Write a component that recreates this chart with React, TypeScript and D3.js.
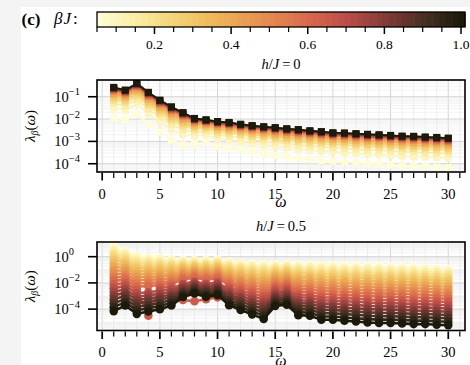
import React from "react";
import * as d3 from "d3";

const W = 470;
const H = 365;
const FONT = '"Liberation Serif", "DejaVu Serif", serif';

// ---------------- data ----------------
const omega = [1, 2, 3, 4, 5, 6, 7, 8, 9, 10, 11, 12, 13, 14, 15, 16, 17, 18, 19, 20, 21, 22, 23, 24, 25, 26, 27, 28, 29, 30];
const xMajorTicks = [0, 5, 10, 15, 20, 25, 30];
const colorbarMajorTicks = [0.2, 0.4, 0.6, 0.8, 1.0];
const colorbarTickLabels = ["0.2", "0.4", "0.6", "0.8", "1.0"];
const topYTickExponents = [-1, -2, -3, -4];
const bottomYTickExponents = [0, -2, -4];
const panelFieldValues = ["0", "0.5"];

// top panel (h/J = 0): log10 lambda, one row per beta J
const topBetas = [0.05, 0.1, 0.15, 0.2, 0.25, 0.3, 0.35, 0.4, 0.5, 0.6, 0.7, 0.8, 0.9, 1.0];
const topLog10Lambda = [
  [-1.94, -2.02, -1.76, -2.21, -2.58, -2.93, -3.15, -3.12, -3.03, -3.25, -3.30, -3.35, -3.47, -3.55, -3.62, -3.70, -3.77, -3.82, -3.85, -3.88, -3.91, -3.95, -4.00, -4.03, -4.05, -4.08, -4.11, -4.12, -4.15, -4.18],
  [-1.50, -1.60, -1.32, -1.76, -2.12, -2.46, -2.69, -2.75, -2.71, -2.89, -2.93, -2.99, -3.09, -3.16, -3.22, -3.29, -3.35, -3.40, -3.44, -3.47, -3.50, -3.53, -3.58, -3.60, -3.63, -3.66, -3.68, -3.70, -3.72, -3.75],
  [-1.30, -1.40, -1.12, -1.55, -1.91, -2.23, -2.47, -2.58, -2.56, -2.71, -2.76, -2.82, -2.92, -2.98, -3.04, -3.10, -3.16, -3.21, -3.24, -3.28, -3.30, -3.34, -3.38, -3.40, -3.43, -3.46, -3.48, -3.50, -3.52, -3.55],
  [-1.15, -1.25, -0.97, -1.39, -1.75, -2.07, -2.31, -2.45, -2.45, -2.59, -2.63, -2.70, -2.79, -2.85, -2.90, -2.96, -3.02, -3.07, -3.10, -3.14, -3.16, -3.20, -3.23, -3.26, -3.28, -3.31, -3.33, -3.35, -3.38, -3.41],
  [-1.06, -1.16, -0.88, -1.29, -1.65, -1.97, -2.21, -2.37, -2.38, -2.51, -2.55, -2.62, -2.70, -2.76, -2.81, -2.87, -2.93, -2.98, -3.01, -3.05, -3.07, -3.11, -3.14, -3.17, -3.19, -3.22, -3.24, -3.26, -3.29, -3.32],
  [-0.97, -1.08, -0.79, -1.21, -1.56, -1.88, -2.13, -2.30, -2.32, -2.44, -2.48, -2.55, -2.63, -2.69, -2.74, -2.80, -2.85, -2.90, -2.93, -2.98, -2.99, -3.03, -3.06, -3.09, -3.11, -3.14, -3.16, -3.18, -3.21, -3.24],
  [-0.89, -1.00, -0.71, -1.12, -1.48, -1.79, -2.04, -2.23, -2.26, -2.37, -2.41, -2.49, -2.56, -2.62, -2.67, -2.72, -2.77, -2.82, -2.86, -2.90, -2.92, -2.95, -2.98, -3.01, -3.03, -3.06, -3.08, -3.10, -3.13, -3.16],
  [-0.85, -0.96, -0.67, -1.07, -1.43, -1.74, -1.99, -2.19, -2.23, -2.33, -2.37, -2.45, -2.52, -2.58, -2.62, -2.68, -2.72, -2.77, -2.81, -2.86, -2.87, -2.90, -2.94, -2.96, -2.99, -3.02, -3.03, -3.06, -3.08, -3.11],
  [-0.76, -0.88, -0.58, -0.99, -1.34, -1.65, -1.90, -2.13, -2.17, -2.26, -2.31, -2.38, -2.45, -2.50, -2.55, -2.60, -2.65, -2.70, -2.73, -2.78, -2.79, -2.83, -2.86, -2.88, -2.91, -2.94, -2.95, -2.98, -3.00, -3.03],
  [-0.70, -0.82, -0.52, -0.93, -1.28, -1.58, -1.84, -2.07, -2.12, -2.21, -2.25, -2.33, -2.40, -2.45, -2.49, -2.54, -2.59, -2.64, -2.68, -2.72, -2.74, -2.77, -2.80, -2.82, -2.85, -2.88, -2.89, -2.92, -2.94, -2.97],
  [-0.66, -0.78, -0.48, -0.88, -1.24, -1.54, -1.80, -2.04, -2.09, -2.18, -2.22, -2.30, -2.36, -2.41, -2.45, -2.51, -2.55, -2.60, -2.64, -2.69, -2.70, -2.73, -2.76, -2.78, -2.81, -2.84, -2.85, -2.88, -2.90, -2.93],
  [-0.62, -0.74, -0.44, -0.84, -1.19, -1.49, -1.75, -2.00, -2.06, -2.14, -2.18, -2.26, -2.33, -2.38, -2.42, -2.47, -2.51, -2.56, -2.60, -2.65, -2.66, -2.69, -2.72, -2.74, -2.77, -2.80, -2.81, -2.84, -2.86, -2.89],
  [-0.60, -0.72, -0.42, -0.82, -1.17, -1.47, -1.73, -1.99, -2.05, -2.13, -2.17, -2.25, -2.31, -2.36, -2.40, -2.45, -2.49, -2.54, -2.58, -2.63, -2.64, -2.67, -2.70, -2.72, -2.75, -2.78, -2.79, -2.82, -2.84, -2.87],
  [-0.58, -0.70, -0.40, -0.80, -1.15, -1.45, -1.71, -1.97, -2.03, -2.11, -2.15, -2.23, -2.29, -2.34, -2.38, -2.43, -2.47, -2.52, -2.56, -2.61, -2.62, -2.65, -2.68, -2.70, -2.73, -2.76, -2.77, -2.80, -2.82, -2.85],
];

// bottom panel (h/J = 0.5): log10 lambda, one row per omega, columns follow bottomBetas
const bottomBetas = [0.05, 0.1, 0.15, 0.2, 0.25, 0.3, 0.35, 0.4, 0.45, 0.5, 0.55, 0.6, 0.65, 0.7, 0.75, 0.8, 0.85, 0.9, 0.95, 1.0];
const bottomLog10LambdaByOmega = [
  [0.80, 0.63, 0.43, 0.21, -0.03, -0.26, -0.52, -0.77, -1.03, -1.30, -1.57, -1.84, -2.12, -2.40, -2.68, -2.97, -3.26, -3.56, -3.85, -4.15],
  [0.45, 0.31, 0.14, -0.05, -0.25, -0.45, -0.66, -0.87, -1.09, -1.32, -1.54, -1.77, -2.01, -2.24, -2.49, -2.73, -2.97, -3.22, -3.47, -3.72],
  [0.08, -0.07, -0.25, -0.45, -0.66, -0.87, -1.10, -1.33, -1.56, -1.80, -2.04, -2.29, -2.54, -2.79, -3.05, -3.30, -3.56, -3.83, -4.09, -4.36],
  [-0.02, -0.16, -0.33, -0.52, -0.71, -0.91, -1.13, -1.34, -1.56, -1.78, -2.01, -2.24, -4.50, -2.71, -2.95, -3.19, -3.43, -3.68, -3.93, -4.18],
  [-0.05, -0.18, -0.35, -0.52, -0.71, -0.90, -1.10, -1.30, -1.51, -1.72, -1.94, -2.16, -2.38, -2.60, -2.83, -3.06, -3.29, -3.53, -3.76, -4.00],
  [-0.17, -0.29, -0.44, -0.60, -0.76, -0.93, -1.11, -1.30, -1.48, -1.68, -1.87, -2.06, -2.26, -2.46, -2.67, -2.88, -3.08, -3.29, -3.51, -3.72],
  [-0.22, -0.32, -0.43, -0.56, -0.70, -0.83, -0.98, -1.13, -1.28, -1.43, -1.59, -1.74, -3.30, -2.07, -2.23, -2.40, -2.57, -2.74, -2.91, -3.08],
  [-0.25, -0.34, -0.44, -0.56, -0.68, -0.80, -0.93, -1.06, -1.19, -1.33, -1.47, -1.61, -3.40, -1.90, -2.05, -2.19, -2.34, -2.49, -2.65, -2.80],
  [-0.25, -0.35, -0.46, -0.59, -0.72, -0.85, -1.00, -1.14, -1.29, -1.44, -1.59, -1.75, -3.25, -2.07, -2.23, -2.39, -2.55, -2.72, -2.89, -3.06],
  [-0.20, -0.29, -0.40, -0.53, -0.66, -0.79, -0.93, -1.07, -1.21, -1.36, -1.50, -1.66, -3.10, -1.96, -2.12, -2.28, -2.44, -2.60, -2.77, -2.93],
  [-0.38, -0.49, -0.63, -0.78, -0.93, -1.09, -1.26, -1.43, -1.61, -1.79, -1.97, -2.15, -2.34, -2.52, -2.72, -2.91, -3.10, -3.30, -3.50, -3.70],
  [-0.46, -0.58, -0.73, -0.89, -1.06, -1.24, -1.42, -1.60, -1.80, -1.99, -2.19, -2.38, -2.59, -2.79, -3.00, -3.21, -3.42, -3.64, -3.85, -4.07],
  [-0.50, -0.63, -0.79, -0.97, -1.15, -1.34, -1.54, -1.74, -1.94, -2.15, -2.36, -2.58, -2.80, -3.02, -3.25, -3.47, -3.70, -3.93, -4.17, -4.40],
  [-0.55, -0.69, -0.87, -1.05, -1.25, -1.45, -1.67, -1.88, -2.10, -2.33, -2.56, -2.79, -3.03, -3.26, -3.51, -3.75, -3.99, -4.25, -4.50, -4.75],
  [-0.58, -0.69, -0.82, -0.96, -1.11, -1.26, -1.42, -1.58, -1.75, -1.92, -2.10, -2.27, -2.45, -2.63, -2.81, -3.00, -3.18, -3.37, -3.56, -3.75],
  [-0.55, -0.66, -0.78, -0.92, -1.07, -1.22, -1.38, -1.54, -1.70, -1.87, -2.04, -2.21, -2.39, -2.57, -2.75, -2.93, -3.11, -3.30, -3.48, -3.67],
  [-0.60, -0.73, -0.89, -1.06, -1.24, -1.43, -1.63, -1.82, -2.03, -2.24, -2.45, -2.66, -2.88, -3.09, -3.32, -3.54, -3.77, -4.00, -4.23, -4.46],
  [-0.62, -0.75, -0.91, -1.09, -1.27, -1.46, -1.65, -1.85, -2.06, -2.27, -2.48, -2.69, -2.92, -3.13, -3.36, -3.58, -3.81, -4.04, -4.28, -4.51],
  [-0.64, -0.78, -0.95, -1.14, -1.34, -1.54, -1.75, -1.96, -2.18, -2.41, -2.63, -2.86, -3.10, -3.33, -3.58, -3.82, -4.06, -4.31, -4.56, -4.81],
  [-0.66, -0.80, -0.97, -1.16, -1.35, -1.55, -1.76, -1.98, -2.20, -2.42, -2.64, -2.87, -3.11, -3.34, -3.58, -3.82, -4.06, -4.31, -4.56, -4.81],
  [-0.68, -0.82, -1.00, -1.19, -1.38, -1.59, -1.80, -2.01, -2.24, -2.47, -2.69, -2.92, -3.16, -3.40, -3.64, -3.89, -4.13, -4.38, -4.64, -4.89],
  [-0.70, -0.84, -1.02, -1.21, -1.41, -1.61, -1.83, -2.04, -2.27, -2.50, -2.73, -2.96, -3.20, -3.44, -3.68, -3.93, -4.18, -4.43, -4.69, -4.94],
  [-0.72, -0.87, -1.04, -1.24, -1.44, -1.64, -1.86, -2.08, -2.31, -2.54, -2.78, -3.01, -3.26, -3.50, -3.75, -4.00, -4.25, -4.50, -4.76, -5.02],
  [-0.74, -0.89, -1.06, -1.26, -1.46, -1.67, -1.89, -2.11, -2.34, -2.57, -2.80, -3.04, -3.29, -3.53, -3.78, -4.03, -4.28, -4.54, -4.80, -5.06],
  [-0.76, -0.91, -1.08, -1.28, -1.48, -1.68, -1.90, -2.12, -2.35, -2.58, -2.82, -3.05, -3.30, -3.54, -3.79, -4.04, -4.29, -4.54, -4.80, -5.06],
  [-0.78, -0.93, -1.10, -1.30, -1.50, -1.71, -1.93, -2.15, -2.38, -2.61, -2.84, -3.08, -3.32, -3.57, -3.81, -4.06, -4.31, -4.57, -4.83, -5.09],
  [-0.80, -0.95, -1.13, -1.32, -1.52, -1.73, -1.95, -2.18, -2.41, -2.64, -2.87, -3.11, -3.36, -3.60, -3.86, -4.11, -4.36, -4.62, -4.88, -5.14],
  [-0.84, -0.99, -1.16, -1.36, -1.56, -1.76, -1.98, -2.20, -2.43, -2.66, -2.90, -3.13, -3.38, -3.62, -3.87, -4.12, -4.37, -4.62, -4.88, -5.14],
  [-0.88, -1.03, -1.20, -1.40, -1.60, -1.81, -2.03, -2.25, -2.48, -2.71, -2.94, -3.18, -3.42, -3.67, -3.91, -4.16, -4.41, -4.67, -4.93, -5.19],
  [-0.92, -1.07, -1.24, -1.44, -1.64, -1.84, -2.06, -2.28, -2.51, -2.74, -2.98, -3.21, -3.46, -3.70, -3.95, -4.20, -4.45, -4.70, -4.96, -5.22],
];

// colour map (light yellow -> orange -> red -> near black)
const cmapColors = ["#fffdd8", "#fbeea8", "#f5d67c", "#f0bd5c", "#ea9f52", "#e2824f", "#d6634c", "#b54b47", "#7e3a36", "#473023", "#1b1a0b"];
const cmap = d3.piecewise(d3.interpolateRgb, cmapColors);
const BETA_MIN = 0.05;
const BETA_MAX = 1.0;
const colorOf = (b: number) => cmap(Math.max(0, Math.min(1, (b - BETA_MIN) / (BETA_MAX - BETA_MIN))));

// ---------------- layout ----------------
const PL = 97;
const PR = 465;
const xScale = d3.scaleLinear().domain([-0.45, 31.45]).range([PL, PR]);

type Series = { beta: number; values: number[] };

const topSeries: Series[] = topBetas.map((b, k) => ({ beta: b, values: topLog10Lambda[k] }));
const bottomSeries: Series[] = bottomBetas.map((b, k) => ({
  beta: b,
  values: omega.map((_, i) => bottomLog10LambdaByOmega[i][k]),
}));

function Panel(props: {
  id: string;
  top: number;
  bottom: number;
  expLo: number;
  expHi: number;
  series: Series[];
  marker: "square" | "circle";
  field: string;
  yTicks: number[];
}) {
  const { id, top, bottom, expLo, expHi, series, marker, field, yTicks } = props;
  const y = d3.scaleLog().domain([Math.pow(10, expLo), Math.pow(10, expHi)]).range([bottom, top]);
  const line = d3
    .line<number>()
    .x((_, i) => xScale(omega[i]))
    .y((v) => y(Math.pow(10, v)));

  const vMinor = d3.range(0, 32);
  const decades = d3.range(Math.floor(expLo), Math.ceil(expHi) + 1);
  const hMinor: number[] = [];
  decades.forEach((d) => {
    for (let m = 1; m <= 9; m++) {
      const v = m * Math.pow(10, d);
      const lv = Math.log10(v);
      if (lv > expLo && lv < expHi && !(m === 1 && yTicks.includes(d))) hMinor.push(v);
    }
  });

  const cx = (PL + PR) / 2;
  const cy = (top + bottom) / 2;
  const ms = 7;
  const isCircle = marker === "circle";

  return (
    <g>
      <defs>
        <clipPath id={id}>
          <rect x={PL} y={top} width={PR - PL} height={bottom - top} />
        </clipPath>
      </defs>
      {/* grid */}
      <g>
        {vMinor.map((t) => (
          <line
            key={"vg" + t}
            x1={xScale(t)}
            x2={xScale(t)}
            y1={top}
            y2={bottom}
            stroke={t % 5 === 0 ? "#cfcfcf" : "#e6e6e6"}
            strokeWidth={t % 5 === 0 ? 0.9 : 0.7}
          />
        ))}
        {hMinor.map((v, i) => (
          <line key={"hg" + i} x1={PL} x2={PR} y1={y(v)} y2={y(v)} stroke="#ebebeb" strokeWidth={0.6} />
        ))}
        {yTicks.map((e) => (
          <line key={"hM" + e} x1={PL} x2={PR} y1={y(Math.pow(10, e))} y2={y(Math.pow(10, e))} stroke="#cfcfcf" strokeWidth={0.9} />
        ))}
      </g>
      {/* series */}
      <g clipPath={`url(#${id})`}>
        {series.map((s, k) => {
          const c = colorOf(s.beta);
          return (
            <g key={"s" + k}>
              <path d={line(s.values) || ""} fill="none" stroke={c} strokeWidth={isCircle ? 2.6 : 1.8} />
              {s.values.map((v, i) =>
                !isCircle ? (
                  <rect
                    key={i}
                    x={xScale(omega[i]) - ms / 2}
                    y={y(Math.pow(10, v)) - ms / 2}
                    width={ms}
                    height={ms}
                    fill={c}
                  />
                ) : (
                  <circle key={i} cx={xScale(omega[i])} cy={y(Math.pow(10, v))} r={4.3} fill={c} />
                )
              )}
            </g>
          );
        })}
      </g>
      {/* frame */}
      <rect x={PL} y={top} width={PR - PL} height={bottom - top} fill="none" stroke="#000" strokeWidth={1.6} />
      {/* x ticks */}
      {vMinor.map((t) => {
        const major = xMajorTicks.includes(t);
        return (
          <line
            key={"xt" + t}
            x1={xScale(t)}
            x2={xScale(t)}
            y1={bottom + 1}
            y2={bottom + (major ? 8.5 : 6)}
            stroke="#000"
            strokeWidth={major ? 1.7 : 1.2}
          />
        );
      })}
      {xMajorTicks.map((t) => (
        <text key={"xl" + t} x={xScale(t)} y={bottom + 26.5} textAnchor="middle" fontSize={14.5} fontFamily={FONT}>
          {String(t)}
        </text>
      ))}
      {/* y ticks */}
      {yTicks.map((e) => {
        const yy = y(Math.pow(10, e));
        const endX = e === 0 ? 74 : 80;
        return (
          <g key={"yt" + e}>
            <line x1={PL - 9} x2={PL} y1={yy} y2={yy} stroke="#000" strokeWidth={1.6} />
            <text x={endX} y={yy + 5} textAnchor="end" fontSize={14.5} fontFamily={FONT}>
              <tspan>10</tspan>
              <tspan dy={-6.5} fontSize={10.5}>
                {e < 0 ? "\u2212" + String(-e) : String(e)}
              </tspan>
            </text>
          </g>
        );
      })}
      {/* title */}
      <text x={cx} y={top - 11} textAnchor="middle" fontSize={14.5} fontFamily={FONT}>
        <tspan fontStyle="italic">h</tspan>
        <tspan>/</tspan>
        <tspan fontStyle="italic">J</tspan>
        <tspan>{"\u2009=\u2009" + field}</tspan>
      </text>
      {/* x label */}
      <text x={cx} y={bottom + 35} textAnchor="middle" fontSize={16} fontStyle="italic" fontFamily={FONT}>
        ω
      </text>
      {/* y label */}
      <text transform={`translate(35,${cy}) rotate(-90)`} textAnchor="middle" fontSize={15} fontFamily={FONT}>
        <tspan fontStyle="italic">λ</tspan>
        <tspan fontStyle="italic" fontSize={10} dy={3}>
          β
        </tspan>
        <tspan dy={-3}>(</tspan>
        <tspan fontStyle="italic">ω</tspan>
        <tspan>)</tspan>
      </text>
    </g>
  );
}

function Colorbar() {
  const x0 = PL;
  const x1 = PR;
  const top = 12;
  const bot = 27;
  const cb = d3.scaleLinear().domain([0.05, 1.0104]).range([x0, x1]);
  const nBands = 58;
  const step = (1.0104 - 0.05) / nBands;
  const bands = d3.range(nBands).map((i) => 0.05 + i * step);
  const minor = d3.range(1, 21).map((i) => i * 0.05);
  return (
    <g>
      {bands.map((b, i) => (
        <rect key={i} x={cb(b)} y={top} width={cb(b + step) - cb(b) + 0.6} height={bot - top} fill={colorOf(b + step / 2)} />
      ))}
      <rect x={x0} y={top} width={x1 - x0} height={bot - top} fill="none" stroke="#000" strokeWidth={1.3} />
      {minor.map((t, i) => {
        const major = colorbarMajorTicks.some((m) => Math.abs(m - t) < 1e-6);
        return (
          <line key={"ct" + i} x1={cb(t)} x2={cb(t)} y1={bot} y2={bot + (major ? 7 : 5)} stroke="#000" strokeWidth={major ? 1.5 : 1.2} />
        );
      })}
      {colorbarMajorTicks.map((t, i) => (
        <text key={"cl" + i} x={cb(t)} y={48.5} textAnchor="middle" fontSize={13.5} fontFamily={FONT}>
          {colorbarTickLabels[i]}
        </text>
      ))}
      <text x={21.5} y={25} fontSize={17} fontWeight="bold" fontFamily={FONT}>
        (c)
      </text>
      <text x={54} y={24} fontSize={17} fontFamily={FONT}>
        <tspan fontStyle="italic">β</tspan>
        <tspan fontStyle="italic" dx={1}>J</tspan>
        <tspan dx={2}>:</tspan>
      </text>
    </g>
  );
}

export default function App() {
  return (
    <svg
      width={W}
      height={H}
      viewBox={`0 0 ${W} ${H}`}
      style={{ position: "absolute", left: 0, top: 0, display: "block" }}
      fontFamily={FONT}
    >
      <rect x={0} y={0} width={W} height={H} fill="#f4f4f4" />
      <rect x={21} y={7} width={W - 21} height={H - 7} fill="#ffffff" />
      <Colorbar />
      <Panel
        id="clipTop"
        top={80}
        bottom={172}
        expLo={-4.37}
        expHi={-0.25}
        series={topSeries}
        marker="square"
        field={panelFieldValues[0]}
        yTicks={topYTickExponents}
      />
      <Panel
        id="clipBottom"
        top={242}
        bottom={330.5}
        expLo={-5.63}
        expHi={1.12}
        series={bottomSeries}
        marker="circle"
        field={panelFieldValues[1]}
        yTicks={bottomYTickExponents}
      />
    </svg>
  );
}
